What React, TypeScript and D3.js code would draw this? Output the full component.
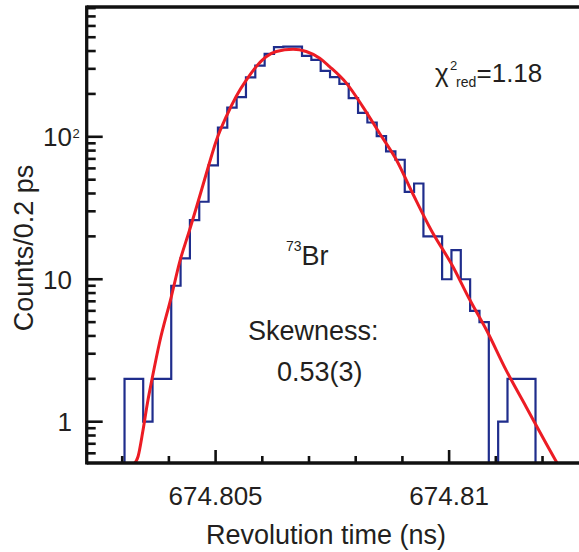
import React from 'react';
import * as d3 from 'd3';

// Histogram: counts per 0.2 ps bin, starting at BIN_START (ns)
const BIN_START = 674.80305;
const BIN_WIDTH = 0.0002;
const counts = [2, 2, 1, 2, 2, 9, 14, 26, 35, 63, 116, 160, 190, 261, 316, 382, 426, 430, 430, 370, 347, 290, 262, 235, 187, 147, 126, 101, 79, 69, 41, 47, 20, 20, 10, 16, 10, 6, 5, 0, 1, 2, 2, 2];

// Fit curve
const fitX = [674.80324, 674.80334, 674.80344, 674.80354, 674.80364, 674.8038, 674.80405, 674.80423, 674.80444, 674.80459, 674.8048, 674.80502, 674.80523, 674.80544, 674.80566, 674.80587, 674.80609, 674.8063, 674.80666, 674.80694, 674.80723, 674.80744, 674.8078, 674.80815, 674.80851, 674.80887, 674.80922, 674.80962, 674.81008, 674.81044, 674.8108, 674.81122, 674.81165, 674.81208, 674.81233];
const fitY = [0.5, 0.57, 0.85, 1.35, 2.0, 3.6, 7.5, 13.2, 22, 32, 55, 95, 139, 192, 251, 311, 366, 397, 412, 397, 356, 311, 238, 163, 106, 69, 40, 22, 12.3, 7.2, 4.4, 2.3, 1.27, 0.7, 0.5];

const xMajorTicks = [674.805, 674.81];
const xMajorLabels = ['674.805', '674.81'];
const xMinorTicks = [674.803, 674.804, 674.806, 674.807, 674.808, 674.809, 674.811, 674.812, 674.813];
const yMajorTicks = [1, 10, 100];
const yMinorTicks = [0.6, 0.7, 0.8, 0.9, 2, 3, 4, 5, 6, 7, 8, 9, 20, 30, 40, 50, 60, 70, 80, 90, 200, 300, 400, 500, 600, 700, 800];

const FONT = "'Liberation Sans', Arial, Helvetica, sans-serif";
const TEXT = '#231f20';

export default function App() {
  const W = 579, H = 552;
  const L = 86.7, R = 600, T = 7, B = 463;
  const x = d3.scaleLinear().domain([674.80224, 674.81322]).range([L, 599.5]);
  const y = d3.scaleLog().domain([0.513, 815]).range([B, T]);
  const yMin = 0.513;

  // histogram step path
  const pts: [number, number][] = [];
  pts.push([BIN_START, yMin]);
  counts.forEach((c, k) => pts.push([BIN_START + k * BIN_WIDTH, Math.max(c, yMin)]));
  pts.push([BIN_START + counts.length * BIN_WIDTH, Math.max(counts[counts.length - 1], yMin)]);
  pts.push([BIN_START + counts.length * BIN_WIDTH, yMin]);
  const histLine = d3.line<[number, number]>()
    .x(d => x(d[0]))
    .y(d => y(d[1]))
    .curve(d3.curveStepAfter);

  const fitData = fitX.map((v, i) => [v, fitY[i]] as [number, number]);
  const fitLine = d3.line<[number, number]>()
    .x(d => x(d[0]))
    .y(d => y(d[1]))
    .curve(d3.curveMonotoneX);

  return (
    <svg width={W} height={H} style={{ position: 'absolute', left: 0, top: 0, background: '#fff' }}
      fontFamily={FONT}>
      <defs>
        <clipPath id="plotclip">
          <rect x={L} y={T} width={R - L} height={B - T} />
        </clipPath>
      </defs>
      <rect x={0} y={0} width={W} height={H} fill="#fff" />

      <g clipPath="url(#plotclip)">
        <path d={histLine(pts) || ''} fill="none" stroke="#1f2d8c" strokeWidth={2.2} strokeLinejoin="miter" />
        <path d={fitLine(fitData) || ''} fill="none" stroke="#ec1c24" strokeWidth={3} />
      </g>

      {/* frame */}
      <line x1={L} x2={R} y1={T} y2={T} stroke="#111" strokeWidth={3.3} />
      <line x1={L} x2={R} y1={B} y2={B} stroke="#111" strokeWidth={3.3} />
      <line x1={L} x2={L} y1={T - 1.6} y2={B + 1.6} stroke="#111" strokeWidth={3.3} />

      {/* x ticks */}
      {xMajorTicks.map((t, i) => (
        <g key={'xm' + i}>
          <line x1={x(t)} x2={x(t)} y1={B} y2={B - 13} stroke="#111" strokeWidth={2.6} />
          <text x={x(t)} y={505} textAnchor="middle" fontSize={26} fill={TEXT}>{xMajorLabels[i]}</text>
        </g>
      ))}
      {xMinorTicks.map((t, i) => (
        <line key={'xn' + i} x1={x(t)} x2={x(t)} y1={B} y2={B - 7} stroke="#111" strokeWidth={2.6} />
      ))}

      {/* y ticks */}
      {yMajorTicks.map((t, i) => (
        <line key={'ym' + i} x1={L} x2={L + 16} y1={y(t)} y2={y(t)} stroke="#111" strokeWidth={2.6} />
      ))}
      {yMinorTicks.map((t, i) => (
        <line key={'yn' + i} x1={L} x2={L + 9} y1={y(t)} y2={y(t)} stroke="#111" strokeWidth={2.6} />
      ))}
      <text x={72} y={y(1) + 9.3} textAnchor="end" fontSize={26} fill={TEXT}>1</text>
      <text x={72} y={y(10) + 9.3} textAnchor="end" fontSize={26} fill={TEXT}>10</text>
      <text x={72} y={y(100) + 9.3} textAnchor="end" fontSize={26} fill={TEXT}>10</text>
      <text x={72.5} y={y(100) + 1} fontSize={13} fill={TEXT}>2</text>

      {/* axis titles */}
      <text x={326} y={544} textAnchor="middle" fontSize={27} fill={TEXT}>Revolution time (ns)</text>
      <text transform="translate(33,248) rotate(-90)" textAnchor="middle" fontSize={27} fill={TEXT}>Counts/0.2 ps</text>

      {/* annotations */}
      <text x={435} y={82} fontSize={26} fill={TEXT}>χ</text>
      <text x={450} y={70} fontSize={13} fill={TEXT}>2</text>
      <text x={456} y={87} fontSize={14} fill={TEXT}>red</text>
      <text x={476.5} y={82} fontSize={26} fill={TEXT}>=1.18</text>

      <text x={286} y={251} fontSize={14} fill={TEXT}>73</text>
      <text x={301.5} y={265} fontSize={27} fill={TEXT}>Br</text>

      <text x={248} y={340} fontSize={27} fill={TEXT}>Skewness:</text>
      <text x={277} y={381} fontSize={27} fill={TEXT}>0.53(3)</text>
    </svg>
  );
}
